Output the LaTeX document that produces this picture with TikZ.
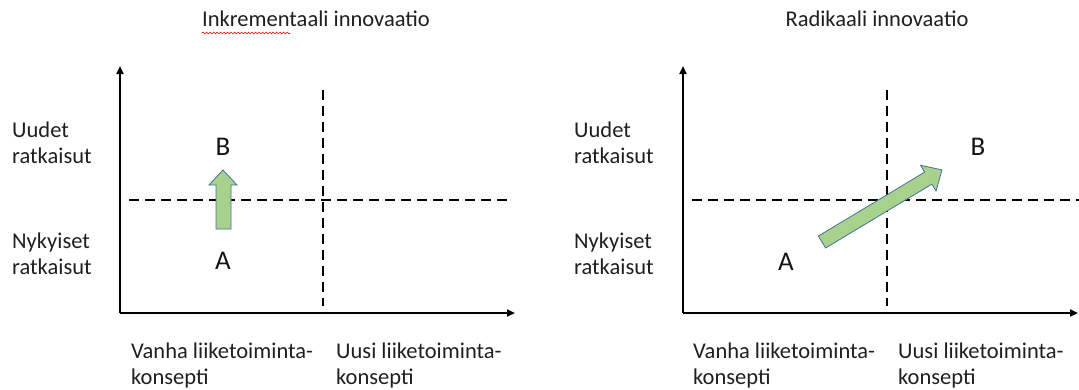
\documentclass[tikz,border=0pt]{standalone}
\usepackage{fontspec}
\setmainfont{Carlito}
\usetikzlibrary{arrows.meta,decorations.pathmorphing}
\begin{document}
\begin{tikzpicture}[x=1pt,y=-1pt,
  axis/.style={line width=2.3pt,-{Triangle[length=8pt,width=7pt]}},
  divider/.style={line width=2.5pt,dash pattern=on 10pt off 6pt},
  lbl/.style={font=\fontsize{22.5}{26}\selectfont,anchor=base west,inner sep=0pt,align=left,text=black!88},
  ttl/.style={font=\fontsize{22.5}{26}\selectfont,anchor=base,inner sep=0pt,text=black!88},
  pt/.style={font=\fontsize{27}{30}\selectfont,anchor=base,inner sep=0pt,text=black!92}]
\definecolor{arrowfill}{HTML}{A9D18E}
\definecolor{arrowline}{HTML}{41719C}
\tikzset{blockarrow/.style={fill=arrowfill,draw=arrowline,line width=0.8pt}}
\useasboundingbox (0,0) rectangle (1079,389);

% ---------- left panel: incremental ----------
\node[ttl] (t1) at (316,26) {Inkrementaali innovaatio};
\draw[red!85!black,line width=0.6pt,decorate,decoration={snake,amplitude=0.9pt,segment length=3.5pt}]
  (202,33) -- (290,33);
\coordinate (o1) at (120,313);
\coordinate (y1) at (120,66);
\coordinate (x1) at (515,313);
\draw[axis] (o1) -- (y1);
\draw[axis] (o1) -- (x1);
\coordinate (h1a) at (129,200);
\coordinate (h1b) at (512,200);
\coordinate (v1a) at (323,90);
\coordinate (v1b) at (323,306);
\draw[divider] (h1a) -- (h1b);
\draw[divider] (v1a) -- (v1b);
\node[pt] (b1) at (223,155) {B};
\node[pt] (a1) at (223,269) {A};
\draw[blockarrow] (216,229) -- (216,185) -- (209,185) -- (223,170) -- (237,185) -- (231,185) -- (231,229) -- cycle;
\node[lbl] (u1) at (12,163) {Uudet\\ratkaisut};
\node[lbl] (n1) at (12,274) {Nykyiset\\ratkaisut};
\node[lbl] (c1a) at (131,384) {Vanha liiketoiminta-\\konsepti};
\node[lbl] (c1b) at (336,384) {Uusi liiketoiminta-\\konsepti};

% ---------- right panel: radical ----------
\node[ttl] (t2) at (877,26) {Radikaali innovaatio};
\coordinate (o2) at (683,313);
\coordinate (y2) at (683,66);
\coordinate (x2) at (1078,313);
\draw[axis] (o2) -- (y2);
\draw[axis] (o2) -- (x2);
\coordinate (h2a) at (692,200);
\coordinate (h2b) at (1079,200);
\coordinate (v2a) at (887,90);
\coordinate (v2b) at (887,306);
\draw[divider] (h2a) -- (h2b);
\draw[divider] (v2a) -- (v2b);
\node[pt] (b2) at (978,155) {B};
\node[pt] (a2) at (786,270) {A};
\begin{scope}[shift={(822,242)},rotate=31]
  \draw[blockarrow] (0,7) -- (0,-7) -- (124,-7) -- (124,-15) -- (140,0) -- (124,15) -- (124,7) -- cycle;
\end{scope}
\node[lbl] (u2) at (574,163) {Uudet\\ratkaisut};
\node[lbl] (n2) at (574,274) {Nykyiset\\ratkaisut};
\node[lbl] (c2a) at (693,384) {Vanha liiketoiminta-\\konsepti};
\node[lbl] (c2b) at (898,384) {Uusi liiketoiminta-\\konsepti};
\end{tikzpicture}
\end{document}
